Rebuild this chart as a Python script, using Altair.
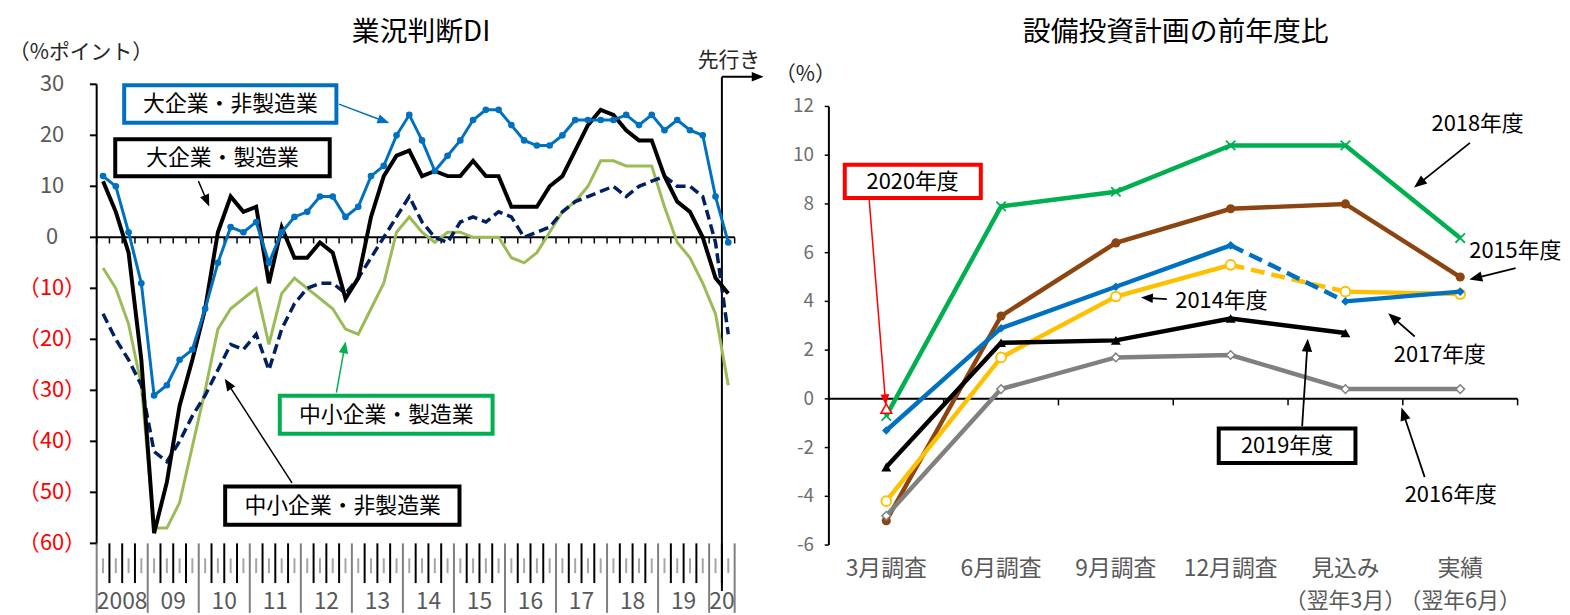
import math
import altair as alt
import pandas as pd

FONT = "Noto Sans CJK JP"
OFF = 8  # page margin; chart padding is 0


def px(v):
    return v - OFF


# ---------------- left panel data: 業況判断DI (2008Q1 .. 2020Q2 forecast) ----------------
START_YEAR = 2008
large_mfg = [11, 5, -3, -24, -58, -48, -33, -24, -14, 1, 8, 5, 6, -9, 2, -4,
             -4, -1, -3, -12, -8, 4, 12, 16, 17, 12, 13, 12, 12, 15, 12, 12,
             6, 6, 6, 10, 12, 17, 22, 25, 24, 21, 19, 19, 12, 7, 5, 0, -8, -11]
large_nonmfg = [12, 10, 1, -9, -31, -29, -24, -22, -14, -5, 2, 1, 3, -5, 1, 4,
                5, 8, 8, 4, 6, 12, 14, 20, 24, 19, 13, 16, 19, 23, 25, 25,
                22, 19, 18, 18, 20, 23, 23, 23, 23, 24, 22, 24, 21, 23, 21, 20, 8, -1]
small_mfg = [-6, -10, -17, -29, -57, -57, -52, -41, -30, -18, -14, -12, -10, -21, -11, -8,
             -10, -12, -14, -18, -19, -14, -9, 1, 4, 1, -1, 1, 1, 0, 0, 0,
             -4, -5, -3, 1, 5, 7, 10, 15, 15, 14, 14, 14, 6, -1, -4, -9, -15, -29]
small_nonmfg = [-15, -20, -24, -29, -42, -44, -40, -35, -31, -26, -21, -22, -19, -26, -18, -13,
                -10, -9, -9, -11, -8, -4, 0, 4, 8, 3, 0, -1, 3, 4, 3, 5,
                4, 0, 1, 2, 5, 7, 8, 9, 10, 8, 10, 11, 12, 10, 10, 8, -1, -19]
year_labels = ["2008", "09", "10", "11", "12", "13", "14", "15", "16", "17", "18", "19", "20"]
di_ticks = [30, 20, 10, 0, -10, -20, -30, -40, -50, -60]
di_tick_labels = ["30", "20", "10", "0", "（10）", "（20）", "（30）", "（40）", "（50）", "（60）"]

# ---------------- right panel data: 設備投資計画の前年度比 ----------------
surveys = ["3月調査", "6月調査", "9月調査", "12月調査", "見込み", "実績"]
surveys_sub = ["（翌年3月）", "（翌年6月）"]
fy2014 = [-4.2, 1.7, 4.2, 5.5, 4.4, 4.3]
fy2015 = [-5.0, 3.4, 6.4, 7.8, 8.0, 5.0]
fy2016 = [-4.8, 0.4, 1.7, 1.8, 0.4, 0.4]
fy2017 = [-1.3, 2.9, 4.6, 6.3, 4.0, 4.4]
fy2018 = [-0.7, 7.9, 8.5, 10.4, 10.4, 6.6]
fy2019 = [-2.8, 2.3, 2.4, 3.3, 2.7]
fy2020 = [-0.4]
capex_ticks = [12, 10, 8, 6, 4, 2, 0, -2, -4, -6]
capex_tick_labels = ["12", "10", "8", "6", "4", "2", "0", "-2", "-4", "-6"]

GRAY_TXT = "#595959"

# ======================= LEFT PANEL =======================
n = len(large_mfg)
t_end = START_YEAR + n / 4
xL = alt.Scale(domain=[START_YEAR, t_end], range=[px(89.3), px(731.8)], nice=False, zero=False)
yL = alt.Scale(domain=[min(di_ticks), max(di_ticks)], range=[px(545), px(82.7)], nice=False, zero=False)


def XL(f):
    return alt.X(f, scale=xL, axis=None)


def YL(f):
    return alt.Y(f, scale=yL, axis=None)


dfL = pd.DataFrame({
    "t": [START_YEAR + (i + 0.5) / 4 for i in range(n)],
    "lm": large_mfg, "ln": large_nonmfg, "sm": small_mfg, "sn": small_nonmfg,
})
year_starts = list(range(START_YEAR, int(math.ceil(t_end))))
df_year_lines = pd.DataFrame({"b": year_starts + [t_end]})
df_qminor = pd.DataFrame({"b": [START_YEAR + k / 4 for k in range(1, n) if k % 4 != 0]})
df_year_lab = pd.DataFrame({
    "x": [(y + min(y + 1, t_end)) / 2 for y in year_starts],
    "lab": year_labels,
})
df_yaxis = pd.DataFrame({"x": [START_YEAR], "y1": [min(di_ticks)], "y2": [max(di_ticks)]})
df_yt = pd.DataFrame({
    "x": [START_YEAR] * len(di_ticks), "v": di_ticks, "lab": di_tick_labels,
    "col": [GRAY_TXT if v >= 0 else "#FF0000" for v in di_ticks],
})
df_zero = pd.DataFrame({"x1": [START_YEAR], "x2": [t_end], "y": [0]})
df_zt = pd.DataFrame({"b": [START_YEAR + k / 4 for k in range(n + 1)], "y": [0] * (n + 1)})
df_fc = pd.DataFrame({"b": [START_YEAR + (n - 1) / 4]})

left_layers = [
    alt.Chart(df_year_lines).mark_rule(color="#7f7f7f", strokeWidth=2).encode(
        x=XL("b:Q"), y=alt.value(px(545)), y2=alt.value(px(615))),
    alt.Chart(df_qminor).mark_rule(color="black", strokeWidth=2).encode(
        x=XL("b:Q"), y=alt.value(px(545)), y2=alt.value(px(585))),
    alt.Chart(dfL).mark_rule(color="#a6a6a6", strokeWidth=2).encode(
        x=XL("t:Q"), y=alt.value(px(560)), y2=alt.value(px(575))),
    alt.Chart(df_year_lab).mark_text(font=FONT, fontSize=23, color=GRAY_TXT, baseline="middle").encode(
        x=XL("x:Q"), y=alt.value(px(604)), text="lab:N"),
    alt.Chart(df_yaxis).mark_rule(color="black", strokeWidth=2).encode(
        x=XL("x:Q"), y=YL("y1:Q"), y2="y2:Q"),
    alt.Chart(df_yt).mark_rule(color="black", strokeWidth=2).encode(
        x=XL("x:Q"), x2=alt.value(px(82.5)), y=YL("v:Q")),
    alt.Chart(df_yt).mark_text(font=FONT, fontSize=22, baseline="middle", align="center", dx=-45).encode(
        x=XL("x:Q"), y=YL("v:Q"), text="lab:N", color=alt.Color("col:N", scale=None)),
    alt.Chart(df_zero).mark_rule(color="black", strokeWidth=2).encode(
        x=XL("x1:Q"), x2="x2:Q", y=YL("y:Q")),
    alt.Chart(df_zt).mark_rule(color="black", strokeWidth=1.5).encode(
        x=XL("b:Q"), y=YL("y:Q"), y2=alt.value(px(243))),
    alt.Chart(df_fc).mark_rule(color="black", strokeWidth=2).encode(
        x=XL("b:Q"), y=alt.value(px(75)), y2=alt.value(px(593))),
    alt.Chart(dfL).mark_line(color="#9BBB59", strokeWidth=3).encode(x=XL("t:Q"), y=YL("sm:Q")),
    alt.Chart(dfL).mark_line(color="#002060", strokeWidth=3.5, strokeDash=[10, 5]).encode(
        x=XL("t:Q"), y=YL("sn:Q")),
    alt.Chart(dfL).mark_line(color="black", strokeWidth=4).encode(x=XL("t:Q"), y=YL("lm:Q")),
    alt.Chart(dfL).mark_line(color="#0070C0", strokeWidth=3).encode(x=XL("t:Q"), y=YL("ln:Q")),
    alt.Chart(dfL).mark_circle(color="#0070C0", size=45, opacity=1).encode(x=XL("t:Q"), y=YL("ln:Q")),
]
left = alt.layer(*left_layers)

# ======================= RIGHT PANEL =======================
m = len(surveys)
xR = alt.Scale(domain=[-0.5, m - 0.5], range=[px(826.7), px(1520.3)], nice=False, zero=False)
yR = alt.Scale(domain=[min(capex_ticks), max(capex_ticks)], range=[px(546.7), px(105)], nice=False, zero=False)


def XR(f):
    return alt.X(f, scale=xR, axis=None)


def YR(f):
    return alt.Y(f, scale=yR, axis=None)


def seg_df(vals, pairs):
    rows = []
    for k, (a, b) in enumerate(pairs):
        for i in range(a, b + 1):
            rows.append({"i": i, "v": vals[i], "seg": k})
    return pd.DataFrame(rows)


def pts_df(vals):
    return pd.DataFrame({"i": list(range(len(vals))), "v": vals})


def line_layer(vals, pairs, color, dash=None):
    kw = dict(color=color, strokeWidth=4.5)
    if dash:
        kw["strokeDash"] = dash
    return alt.Chart(seg_df(vals, pairs)).mark_line(**kw).encode(
        x=XR("i:Q"), y=YR("v:Q"), detail="seg:N", order="i:Q")


df_ryaxis = pd.DataFrame({"x": [-0.5], "y1": [min(capex_ticks)], "y2": [max(capex_ticks)]})
df_ryt = pd.DataFrame({"x": [-0.5] * len(capex_ticks), "v": capex_ticks, "lab": capex_tick_labels})
df_rzero = pd.DataFrame({"x1": [-0.5], "x2": [m - 0.5], "y": [0]})
df_rzt = pd.DataFrame({"b": [k + 0.5 for k in range(m)], "y": [0] * m})
df_rxl = pd.DataFrame({"i": list(range(m)), "lab": surveys})
df_rxl2 = pd.DataFrame({"i": [m - 2, m - 1], "lab": surveys_sub})

X_PATH = "M-1,-1L1,1M-1,1L1,-1"
right_layers = [
    alt.Chart(df_ryaxis).mark_rule(color="black", strokeWidth=2).encode(
        x=XR("x:Q"), y=YR("y1:Q"), y2="y2:Q"),
    alt.Chart(df_ryt).mark_rule(color="black", strokeWidth=1.5).encode(
        x=XR("x:Q"), x2=alt.value(px(822.5)), y=YR("v:Q")),
    alt.Chart(df_ryt).mark_text(font=FONT, fontSize=19, color="#6e6e6e", align="right",
                                baseline="middle", dx=-15).encode(
        x=XR("x:Q"), y=YR("v:Q"), text="lab:N"),
    alt.Chart(df_rzero).mark_rule(color="black", strokeWidth=2).encode(
        x=XR("x1:Q"), x2="x2:Q", y=YR("y:Q")),
    alt.Chart(df_rzt).mark_rule(color="black", strokeWidth=1.5).encode(
        x=XR("b:Q"), y=YR("y:Q"), y2=alt.value(px(406))),
    alt.Chart(df_rxl).mark_text(font=FONT, fontSize=23, color=GRAY_TXT, baseline="middle").encode(
        x=XR("i:Q"), y=alt.value(px(571)), text="lab:N"),
    alt.Chart(df_rxl2).mark_text(font=FONT, fontSize=22, color=GRAY_TXT, baseline="middle").encode(
        x=XR("i:Q"), y=alt.value(px(603)), text="lab:N"),
    # 2015 (brown)
    line_layer(fy2015, [(0, 5)], "#8C4510"),
    alt.Chart(pts_df(fy2015)).mark_circle(color="#8C4510", size=85, opacity=1).encode(
        x=XR("i:Q"), y=YR("v:Q")),
    # 2018 (green)
    line_layer(fy2018, [(0, 5)], "#00B050"),
    alt.Chart(pts_df(fy2018)).mark_point(shape=X_PATH, filled=False, color="#00B050", strokeWidth=1.8,
                                         size=90, opacity=1).encode(x=XR("i:Q"), y=YR("v:Q")),
    # 2014 (yellow)
    line_layer(fy2014, [(0, 3), (4, 5)], "#FFC000"),
    line_layer(fy2014, [(3, 4)], "#FFC000", dash=[14, 7]),
    alt.Chart(pts_df(fy2014)).mark_point(shape="circle", filled=True, fill="white", stroke="#FFC000",
                                         strokeWidth=2, size=95, opacity=1).encode(
        x=XR("i:Q"), y=YR("v:Q")),
    # 2017 (blue)
    line_layer(fy2017, [(0, 3), (4, 5)], "#0070C0"),
    line_layer(fy2017, [(3, 4)], "#0070C0", dash=[14, 7]),
    alt.Chart(pts_df(fy2017)).mark_point(shape="diamond", filled=True, color="#0070C0", size=75,
                                         opacity=1).encode(x=XR("i:Q"), y=YR("v:Q")),
    # 2019 (black)
    line_layer(fy2019, [(0, len(fy2019) - 1)], "black"),
    alt.Chart(pts_df(fy2019)).mark_point(shape="triangle-up", filled=True, color="black", size=100,
                                         opacity=1).encode(x=XR("i:Q"), y=YR("v:Q")),
    # 2016 (gray)
    line_layer(fy2016, [(0, 5)], "#808080"),
    alt.Chart(pts_df(fy2016)).mark_point(shape="diamond", filled=True, fill="white", stroke="#808080",
                                         strokeWidth=1.5, size=75, opacity=1).encode(
        x=XR("i:Q"), y=YR("v:Q")),
    # 2020 (red)
    alt.Chart(pts_df(fy2020)).mark_point(shape="triangle-up", filled=True, fill="white", stroke="#FF0000",
                                         strokeWidth=1.5, size=120, opacity=1).encode(
        x=XR("i:Q"), y=YR("v:Q")),
]
right = alt.layer(*right_layers)

# ======================= ANNOTATIONS =======================
texts = [
    ("業況判断DI", 416, 31, 28, "black"),
    ("設備投資計画の前年度比", 1176, 31, 28, "black"),
    ("（%ポイント）", 73.5, 51, 21, "#262626"),
    ("先行き", 726, 59, 21, "#262626"),
    ("（%）", 803, 73, 21, "#262626"),
    ("大企業・非製造業", 224, 102.5, 22, "black"),
    ("大企業・製造業", 216, 157, 22, "black"),
    ("中小企業・製造業", 381, 415.5, 22, "black"),
    ("中小企業・非製造業", 337, 507, 22, "black"),
    ("2018年度", 1480, 122.5, 22, "black"),
    ("2015年度", 1518, 251, 22, "black"),
    ("2014年度", 1222, 301, 22, "black"),
    ("2017年度", 1442, 355, 22, "black"),
    ("2016年度", 1453, 496, 22, "black"),
    ("2019年度", 1288, 447, 22, "black"),
    ("2020年度", 911, 181, 22, "black"),
]
df_txt = pd.DataFrame([{"t": a, "x": px(b), "y": px(c), "fs": d, "c": e} for a, b, c, d, e in texts])

boxes = [
    (117, 83.7, 330.7, 121.3, "#0070C0"),
    (108, 138, 324, 175.3, "black"),
    (273.7, 396.3, 488, 434.7, "#00B050"),
    (218.7, 487.7, 454.7, 526.3, "black"),
    (1219.3, 429.3, 1357, 464, "black"),
    (842.7, 163.7, 979.7, 197.3, "#FF0000"),
]
df_box = pd.DataFrame([{"x": px(a), "y": px(b), "x2": px(c), "y2": px(d), "c": e} for a, b, c, d, e in boxes])

arrows = [
    (333.3, 102.7, 384, 121.7, "#0070C0", 1.5, 12),
    (191.7, 180, 202.7, 205.7, "black", 1.5, 12),
    (330.7, 393.3, 340, 341.7, "#00B050", 1.5, 12),
    (286, 484, 218.3, 379.3, "black", 1.5, 12),
    (719, 75, 761, 75, "black", 2, 12),
    (1472.3, 141.7, 1416, 186.7, "black", 1.8, 13),
    (1518.3, 267.7, 1471.7, 279.3, "black", 1.8, 13),
    (1167, 299, 1141, 297.5, "black", 1.8, 12),
    (1416.7, 336.7, 1390, 313.3, "black", 1.8, 13),
    (1303.3, 427, 1309, 339, "black", 1.8, 13),
    (1426.7, 478.3, 1403.3, 408.3, "black", 1.8, 13),
    (867.3, 199.3, 884, 406, "#FF0000", 1.5, 11),
]
line_rows, head_rows = [], []
for x1, y1, x2, y2, c, w, L in arrows:
    dx, dy = x2 - x1, y2 - y1
    d = math.hypot(dx, dy)
    ux, uy = dx / d, dy / d
    lx, ly = x2 - ux * L * 0.8, y2 - uy * L * 0.8
    line_rows.append({"x": px(x1), "y": px(y1), "x2": px(lx), "y2": px(ly), "c": c, "w": w})
    cx, cy = x2 - ux * L / 2, y2 - uy * L / 2
    ang = math.degrees(math.atan2(ux, -uy)) % 360
    head_rows.append({"x": px(cx), "y": px(cy), "a": ang, "c": c, "s": L * L})
df_al = pd.DataFrame(line_rows)
df_ah = pd.DataFrame(head_rows)

HEAD_PATH = "M0,-1L0.8,1L-0.8,1Z"
annot = alt.layer(
    alt.Chart(df_box).mark_rect(fill="white", strokeWidth=4).encode(
        x=alt.X("x:Q", scale=None, axis=None), x2="x2:Q",
        y=alt.Y("y:Q", scale=None, axis=None), y2="y2:Q",
        stroke=alt.Stroke("c:N", scale=None)),
    alt.Chart(df_al).mark_rule().encode(
        x=alt.X("x:Q", scale=None, axis=None), x2="x2:Q",
        y=alt.Y("y:Q", scale=None, axis=None), y2="y2:Q",
        color=alt.Color("c:N", scale=None), size=alt.Size("w:Q", scale=None)),
    alt.Chart(df_ah).mark_point(shape=HEAD_PATH, filled=True, opacity=1, strokeWidth=0).encode(
        x=alt.X("x:Q", scale=None, axis=None), y=alt.Y("y:Q", scale=None, axis=None),
        color=alt.Color("c:N", scale=None), size=alt.Size("s:Q", scale=None),
        angle=alt.Angle("a:Q", scale=None)),
    alt.Chart(df_txt).mark_text(font=FONT, align="center", baseline="middle").encode(
        x=alt.X("x:Q", scale=None, axis=None), y=alt.Y("y:Q", scale=None, axis=None),
        text="t:N", color=alt.Color("c:N", scale=None), size=alt.Size("fs:Q", scale=None)),
)

chart = alt.layer(left, right, annot).resolve_scale(
    x="independent", y="independent"
).properties(width=1554, height=607, padding=0).configure_view(stroke=None)

chart.save("out.html", embed_options={"renderer": "svg", "actions": False})
